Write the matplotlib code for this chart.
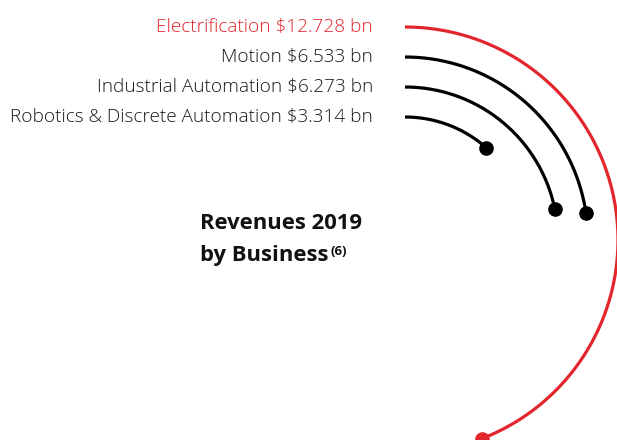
import numpy as np
import matplotlib
matplotlib.use('Agg')
from matplotlib import pyplot as plt

plt.rcParams['font.family'] = ['Open Sans', 'DejaVu Sans']

# revenue 2019 by business, $ bn
businesses = ['Electrification', 'Motion', 'Industrial Automation', 'Robotics & Discrete Automation']
revenues = [12.728, 6.533, 6.273, 3.314]
colors = ['#e3262d', '#000000', '#000000', '#000000']
label_colors = ['#e3262d', '#1a1a1a', '#1a1a1a', '#1a1a1a']

W, H = 617, 440
fig = plt.figure(figsize=(W / 100, H / 100), dpi=100)

# polar axes centred at pixel (405, 240), radius 213 px
cx, cy, R = 405, 240, 213
ax = fig.add_axes([(cx - R) / W, (H - cy - R) / H, 2 * R / W, 2 * R / H], projection='polar')
ax.set_theta_zero_location('N')
ax.set_theta_direction(-1)
ax.set_rlim(0, R)
ax.axis('off')

total = sum(revenues)
radii = [R - 30 * i for i in range(len(revenues))]
for name, val, r, c, lc in zip(businesses, revenues, radii, colors, label_colors):
    ang = val / total * 2 * np.pi
    th = np.linspace(0, ang, 200)
    ax.plot(th, np.full_like(th, r), color=c, lw=2.3, clip_on=False, solid_capstyle='butt')
    ax.plot([ang], [r], 'o', color=c, ms=9.5, clip_on=False)
    ax.annotate(f'{name} ${val} bn', xy=(0, r), xytext=(-32, 0), textcoords='offset pixels',
                ha='right', va='center', fontsize=13.7, color=lc, fontweight='light')

t = fig.text(200 / W, 1 - 223 / H, 'Revenues 2019', fontsize=15.8, fontweight='bold',
             ha='left', va='center', color='#111111')
t2 = fig.text(200 / W, 1 - 255 / H, 'by Business', fontsize=15.8, fontweight='bold',
              ha='left', va='center', color='#111111')
plt.annotate('(6)', xy=(1, 0.97), xycoords=t2, xytext=(2, 0), textcoords='offset pixels',
             ha='left', va='top', fontsize=9.5, fontweight='bold', color='#111111')

fig.savefig('out.png', dpi=100)
